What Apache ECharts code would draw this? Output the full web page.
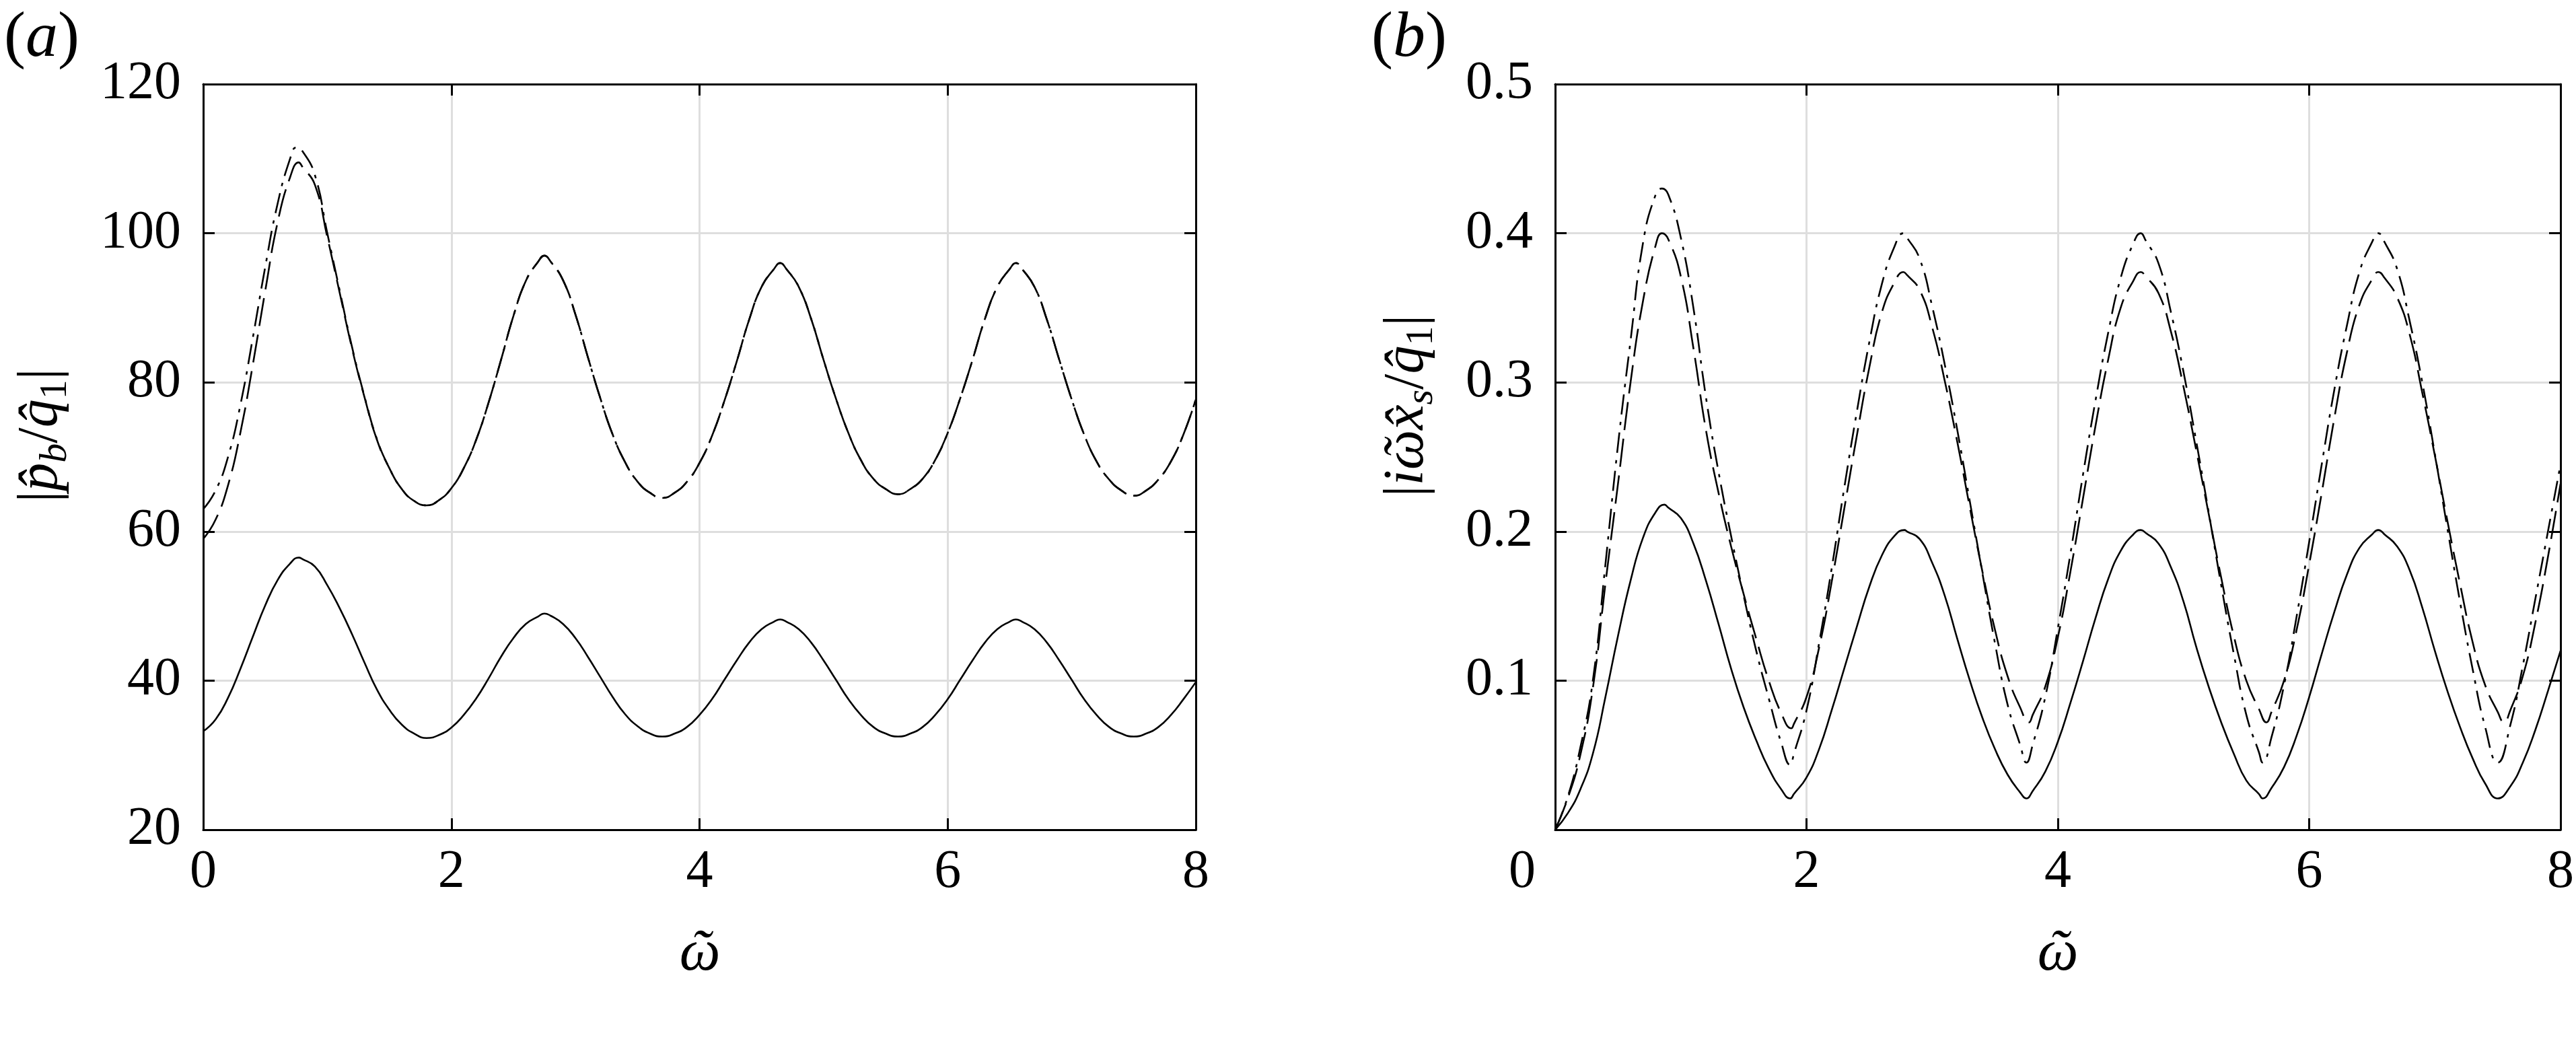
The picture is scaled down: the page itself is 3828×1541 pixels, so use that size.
<!DOCTYPE html>
<html>
<head>
<meta charset="utf-8">
<script src="https://cdn.jsdelivr.net/npm/echarts@6/dist/echarts.min.js"></script>
<style>
html,body{margin:0;padding:0;background:#fff;}
#c{width:3828px;height:1541px;}
</style>
</head>
<body>
<div id="c"></div>
<script>
// ---------------- data ----------------
const omega = [
  0,0.1,0.2,0.3,0.4,0.5,0.6,0.7,0.8,0.9,
  1,1.1,1.2,1.3,1.4,1.5,1.6,1.7,1.8,1.9,
  2,2.1,2.2,2.3,2.4,2.5,2.6,2.7,2.8,2.9,
  3,3.1,3.2,3.3,3.4,3.5,3.6,3.7,3.8,3.9,
  4,4.1,4.2,4.3,4.4,4.5,4.6,4.7,4.8,4.9,
  5,5.1,5.2,5.3,5.4,5.5,5.6,5.7,5.8,5.9,
  6,6.1,6.2,6.3,6.4,6.5,6.6,6.7,6.8,6.9,
  7,7.1,7.2,7.3,7.4,7.5,7.6,7.7,7.8,7.9,
  8
];

// panel (a): |p_b / q_1|
const aSolid = [
  33.2,34.8,37.7,41.6,45.9,50.1,53.5,55.7,56.3,55.3,
  52.8,49.7,46.2,42.4,38.8,36.1,34.1,32.9,32.3,32.7,
  33.7,35.4,37.6,40.3,43.2,45.7,47.6,48.6,48.7,47.6,
  45.7,43.2,40.5,37.8,35.5,33.9,32.9,32.5,32.9,33.8,
  35.4,37.5,40.1,42.7,45.1,46.9,47.9,47.9,46.9,45.1,
  42.7,40.1,37.5,35.4,33.8,32.9,32.5,32.9,33.8,35.4,
  37.5,40.1,42.7,45.1,46.9,47.9,47.9,46.9,45.1,42.7,
  40.1,37.5,35.4,33.8,32.9,32.5,32.9,33.8,35.4,37.5,
  39.8
];
const aSolidExt = [[0.77,56.5],[2.75,49.0],[4.65,48.2],[6.55,48.2]];

const aDash = [
  59.0,61.6,66.2,73.3,82.4,92.3,101.5,107.5,108.9,106.5,
  99.5,92.0,84.5,78.0,72.3,68.5,65.7,64.1,63.5,64.2,
  65.8,68.5,72.3,77.3,83.0,88.9,93.6,96.2,96.2,93.7,
  89.1,83.4,77.9,73.0,69.3,66.7,65.2,64.5,65.2,66.7,
  69.2,72.8,77.5,82.8,88.4,92.8,95.2,95.2,92.8,88.5,
  83.0,77.8,73.2,69.6,67.1,65.7,65.0,65.7,67.1,69.6,
  73.2,77.8,83.0,88.5,92.8,95.2,95.2,92.8,88.4,83.0,
  77.7,73.0,69.4,67.0,65.5,64.8,65.5,67.0,69.4,73.0,
  77.7
];
const aDashExt = [[0.77,109.5],[2.75,97.0],[4.65,96.0],[6.55,96.0]];

const aDashDot = [
  63.0,65.5,70.0,77.0,86.0,95.5,104.0,110.0,111.0,107.8,
  100.0,92.3,84.7,78.1,72.4,68.5,65.7,64.1,63.5,64.2,
  65.8,68.5,72.3,77.3,83.0,88.9,93.6,96.2,96.2,93.7,
  89.1,83.4,77.9,73.0,69.3,66.7,65.2,64.5,65.2,66.7,
  69.2,72.8,77.5,82.8,88.4,92.8,95.2,95.2,92.8,88.5,
  83.0,77.8,73.2,69.6,67.1,65.7,65.0,65.7,67.1,69.6,
  73.2,77.8,83.0,88.5,92.8,95.2,95.2,92.8,88.4,83.0,
  77.7,73.0,69.4,67.0,65.5,64.8,65.5,67.0,69.4,73.0,
  77.7
];
const aDashDotExt = [[0.75,111.5],[2.75,97.0],[4.65,96.0],[6.55,96.0]];

// panel (b): |i w x_s / q_1|
const bSolid = [
  0,0.011,0.027,0.051,0.089,0.130,0.167,0.196,0.213,0.216,
  0.209,0.192,0.167,0.138,0.108,0.082,0.060,0.041,0.027,0.024,
  0.035,0.054,0.080,0.108,0.136,0.163,0.184,0.197,0.200,0.195,
  0.179,0.157,0.128,0.100,0.075,0.054,0.037,0.025,0.026,0.039,
  0.059,0.085,0.113,0.142,0.168,0.187,0.198,0.199,0.192,0.176,
  0.153,0.123,0.096,0.072,0.051,0.033,0.024,0.028,0.042,0.063,
  0.089,0.118,0.146,0.171,0.189,0.198,0.198,0.190,0.174,0.149,
  0.120,0.093,0.069,0.048,0.031,0.021,0.029,0.045,0.067,0.093,
  0.120
];
const bSolidExt = [[0.87,0.218],[1.87,0.021],[2.78,0.201],[3.75,0.021],[4.66,0.201],[5.63,0.021],[6.55,0.201]];

const bDash = [
  0,0.021,0.050,0.095,0.165,0.232,0.300,0.355,0.392,0.396,
  0.371,0.323,0.268,0.226,0.190,0.158,0.128,0.100,0.078,0.071,
  0.089,0.122,0.166,0.215,0.264,0.310,0.347,0.367,0.372,0.362,
  0.337,0.301,0.260,0.216,0.173,0.134,0.103,0.082,0.077,0.096,
  0.129,0.173,0.222,0.271,0.315,0.350,0.368,0.371,0.360,0.334,
  0.297,0.255,0.212,0.169,0.130,0.100,0.081,0.079,0.100,0.134,
  0.178,0.226,0.276,0.320,0.352,0.369,0.370,0.357,0.332,0.293,
  0.251,0.207,0.165,0.126,0.097,0.079,0.080,0.103,0.139,0.183,
  0.232
];
const bDashExt = [[0.85,0.400],[1.88,0.068],[2.77,0.374],[3.77,0.072],[4.66,0.374],[5.66,0.072],[6.55,0.374],[7.55,0.072]];

const bDashDot = [
  0,0.022,0.055,0.100,0.178,0.258,0.328,0.394,0.426,0.426,
  0.397,0.350,0.290,0.240,0.197,0.157,0.120,0.088,0.058,0.051,
  0.080,0.125,0.175,0.229,0.280,0.327,0.366,0.391,0.397,0.383,
  0.351,0.312,0.268,0.220,0.172,0.125,0.084,0.057,0.057,0.089,
  0.135,0.185,0.238,0.288,0.333,0.370,0.393,0.395,0.380,0.347,
  0.307,0.261,0.213,0.164,0.118,0.077,0.052,0.062,0.097,0.143,
  0.193,0.245,0.295,0.338,0.374,0.394,0.394,0.376,0.341,0.300,
  0.252,0.202,0.153,0.108,0.069,0.045,0.070,0.110,0.155,0.200,
  0.245
];
const bDashDotExt = [[0.85,0.430],[1.87,0.0435],[2.77,0.400],[3.75,0.045],[4.66,0.400],[5.63,0.045],[6.55,0.400]];

const xTicks = [0, 2, 4, 6, 8];
const yTicksA = [20, 40, 60, 80, 100, 120];
const yTicksB = [0.1, 0.2, 0.3, 0.4, 0.5];

// ---------------- helpers ----------------
function build(vals, ext) {
  const pts = omega.map((x, i) => [x, vals[i]]);
  ext.forEach(p => { if (!pts.some(q => Math.abs(q[0] - p[0]) < 1e-9)) pts.push(p); });
  pts.sort((a, b) => a[0] - b[0]);
  return pts;
}

const FONT = '"Liberation Serif", "Times New Roman", Times, serif';
const LINE = { color: '#000', width: 3 };
const GRIDC = '#dedede';
const OMEGA_T = '\u1FF6'; // omega with tilde-like accent

function xAxisMain(gi, shiftZero) {
  return {
    type: 'value', gridIndex: gi, position: 'bottom',
    min: xTicks[0], max: xTicks[xTicks.length - 1], interval: xTicks[1] - xTicks[0],
    axisLine: { show: true, onZero: false, lineStyle: LINE },
    axisTick: { show: true, inside: true, length: 17, lineStyle: LINE },
    splitLine: { show: true, lineStyle: { color: GRIDC, width: 3 } },
    axisLabel: {
      show: true, margin: 24, color: '#000', fontFamily: FONT, fontSize: 80,
      formatter: v => (shiftZero && v === 0) ? '{z|0}' : String(v),
      rich: { z: { fontFamily: FONT, fontSize: 80, color: '#000', padding: [0, 98, 0, 0] } }
    }
  };
}
function xAxisMirror(gi) {
  return {
    type: 'value', gridIndex: gi, position: 'top',
    min: xTicks[0], max: xTicks[xTicks.length - 1], interval: xTicks[1] - xTicks[0],
    axisLine: { show: true, onZero: false, lineStyle: LINE },
    axisTick: { show: true, inside: true, length: 17, lineStyle: LINE },
    splitLine: { show: false }, axisLabel: { show: false }
  };
}
function yAxisMain(gi, min, max, interval, fmt) {
  return {
    type: 'value', gridIndex: gi, position: 'left',
    min: min, max: max, interval: interval,
    axisLine: { show: true, onZero: false, lineStyle: LINE },
    axisTick: { show: true, inside: true, length: 17, lineStyle: LINE },
    splitLine: { show: true, lineStyle: { color: GRIDC, width: 3 } },
    axisLabel: { show: true, margin: 33, color: '#000', fontFamily: FONT, fontSize: 80, formatter: fmt }
  };
}
function yAxisMirror(gi, min, max, interval) {
  return {
    type: 'value', gridIndex: gi, position: 'right',
    min: min, max: max, interval: interval,
    axisLine: { show: true, onZero: false, lineStyle: LINE },
    axisTick: { show: true, inside: true, length: 17, lineStyle: LINE },
    splitLine: { show: false }, axisLabel: { show: false }
  };
}
function line(xi, yi, data, type, z) {
  return {
    type: 'line', xAxisIndex: xi, yAxisIndex: yi, data: data,
    showSymbol: false, symbol: 'none', smooth: 0.5, clip: true, z: z,
    lineStyle: { color: '#000', width: 2.6, type: type },
    emphasis: { disabled: true }, silent: true
  };
}

const DASH = [42, 13];
const DASHDOT = [30, 11, 5, 11];

const chart = echarts.init(document.getElementById('c'), null, { renderer: 'canvas', width: 3828, height: 1541 });

const labelRich = {
  it: { fontFamily: FONT, fontSize: 84, fontStyle: 'italic', lineHeight: 100, fill: '#000' },
  sub: { fontFamily: FONT, fontSize: 58, fontStyle: 'italic', lineHeight: 56, verticalAlign: 'bottom', fill: '#000' },
  subn: { fontFamily: FONT, fontSize: 58, lineHeight: 56, verticalAlign: 'bottom', fill: '#000' }
};

const option = {
  animation: false,
  backgroundColor: '#fff',
  grid: [
    { left: 302, top: 125, width: 1475, height: 1108, containLabel: false },
    { left: 2311, top: 125, width: 1495, height: 1108, containLabel: false }
  ],
  xAxis: [ xAxisMain(0, false), xAxisMirror(0), xAxisMain(1, true), xAxisMirror(1) ],
  yAxis: [
    yAxisMain(0, yTicksA[0], yTicksA[yTicksA.length - 1], 20, v => String(v)),
    yAxisMirror(0, yTicksA[0], yTicksA[yTicksA.length - 1], 20),
    yAxisMain(1, 0, yTicksB[yTicksB.length - 1], 0.1, v => (yTicksB.some(t => Math.abs(t - v) < 1e-9) ? v.toFixed(1) : '')),
    yAxisMirror(1, 0, yTicksB[yTicksB.length - 1], 0.1)
  ],
  series: [
    line(0, 0, build(aSolid, aSolidExt), 'solid', 3),
    line(0, 0, build(aDash, aDashExt), DASH, 3),
    line(0, 0, build(aDashDot, aDashDotExt), DASHDOT, 3),
    line(2, 2, build(bSolid, bSolidExt), 'solid', 3),
    line(2, 2, build(bDash, bDashExt), DASH, 3),
    line(2, 2, build(bDashDot, bDashDotExt), DASHDOT, 3)
  ],
  graphic: [
    { type: 'text', x: 6, y: 58, silent: true,
      style: { text: '({it|a})', fontFamily: FONT, fontSize: 96, fill: '#000', align: 'left', verticalAlign: 'middle',
        rich: { it: { fontFamily: FONT, fontSize: 96, fontStyle: 'italic', fill: '#000' } } } },
    { type: 'text', x: 2038, y: 58, silent: true,
      style: { text: '({it|b})', fontFamily: FONT, fontSize: 96, fill: '#000', align: 'left', verticalAlign: 'middle',
        rich: { it: { fontFamily: FONT, fontSize: 96, fontStyle: 'italic', fill: '#000' } } } },
    { type: 'text', x: 1040, y: 1418, silent: true,
      style: { text: OMEGA_T, fontFamily: FONT, fontSize: 86, fontStyle: 'italic', fill: '#000', align: 'center', verticalAlign: 'middle' } },
    { type: 'text', x: 3058, y: 1418, silent: true,
      style: { text: OMEGA_T, fontFamily: FONT, fontSize: 86, fontStyle: 'italic', fill: '#000', align: 'center', verticalAlign: 'middle' } },
    { type: 'text', x: 62, y: 647, rotation: Math.PI / 2, silent: true,
      style: { text: '|{it|p\u0302}{sub|b}/{it|q\u0302}{subn|1}|', fontFamily: FONT, fontSize: 84, lineHeight: 100, fill: '#000',
        align: 'center', verticalAlign: 'middle', rich: labelRich } },
    { type: 'text', x: 2092, y: 603, rotation: Math.PI / 2, silent: true,
      style: { text: '|{it|i' + OMEGA_T + 'x\u0302}{sub|s}/{it|q\u0302}{subn|1}|', fontFamily: FONT, fontSize: 84, lineHeight: 100, fill: '#000',
        align: 'center', verticalAlign: 'middle', rich: labelRich } }
  ]
};
chart.setOption(option);
</script>
</body>
</html>
